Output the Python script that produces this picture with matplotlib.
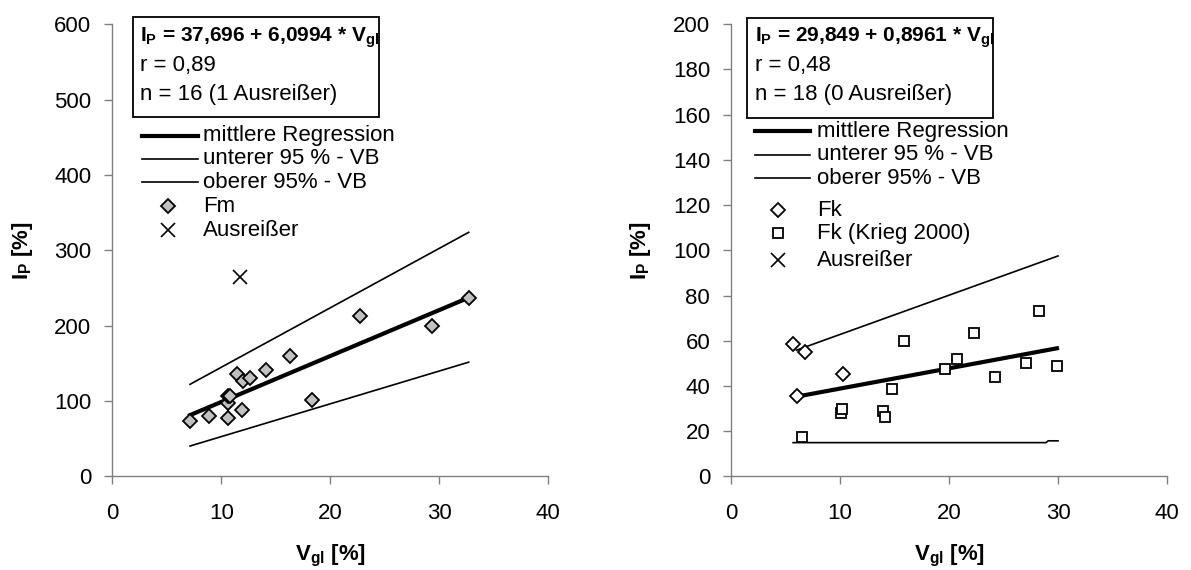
import matplotlib
matplotlib.use("Agg")
import matplotlib.pyplot as plt
from matplotlib.lines import Line2D
from matplotlib.patches import Rectangle
import numpy as np

plt.rcParams["font.family"] = ["Liberation Sans", "DejaVu Sans"]
plt.rcParams["mathtext.fontset"] = "custom"
plt.rcParams["mathtext.rm"] = "Liberation Sans"
plt.rcParams["mathtext.bf"] = "Liberation Sans:bold"
plt.rcParams["mathtext.it"] = "Liberation Sans:italic"

# ---- Fm (left panel) ----
fm_x = [7.13, 8.9, 10.59, 11.9, 10.59, 10.6, 10.8, 11.47, 12.0, 12.63,
        14.07, 16.3, 18.3, 22.7, 29.3, 32.7]
fm_y = [73.8, 80.0, 77.0, 87.6, 97.3, 106.6, 107.0, 135.8, 126.9, 130.0,
        141.1, 159.7, 100.9, 212.8, 199.1, 236.3]
fm_out_x = [11.72]
fm_out_y = [265.0]
fm_a, fm_b = 37.696, 6.0994
fm_line_x = [7.13, 32.7]
fm_upper_y = [122.1, 323.9]
fm_lower_y = [40.2, 151.5]

# ---- Fk (right panel) ----
fk_x = [5.65, 6.82, 10.29, 6.05]
fk_y = [58.5, 54.9, 45.1, 35.5]
kr_x = [6.5, 10.05, 10.2, 13.9, 14.1, 14.78, 15.9, 19.6, 20.7, 22.3,
        24.2, 27.1, 28.3, 29.9]
kr_y = [17.2, 28.1, 29.6, 28.9, 26.4, 38.6, 59.9, 47.3, 51.8, 63.3,
        43.8, 50.0, 73.0, 48.9]
fk_a, fk_b = 29.849, 0.8961
fk_line_x = [6.0, 29.9]
fk_upper_x = [6.0, 30.0]
fk_upper_y = [55.8, 97.5]
fk_lower_x = [5.7, 28.9, 29.1, 30.0]
fk_lower_y = [14.9, 14.9, 15.7, 15.7]

x_ticks = [0, 10, 20, 30, 40]
fm_yticks = [0, 100, 200, 300, 400, 500, 600]
fk_yticks = list(range(0, 201, 20))

W, H = 1191, 570
fig = plt.figure(figsize=(W / 100, H / 100), dpi=100)

SPINE = "#808080"
FS = 16


def make_axes(left_px, yticks, ymax):
    ax = fig.add_axes([left_px / W, (H - 476.3) / H, 436 / W, 452 / H])
    ax.set_xlim(0, 40)
    ax.set_ylim(0, ymax)
    ax.set_xticks(x_ticks)
    ax.set_yticks(yticks)
    for s in ("top", "right"):
        ax.spines[s].set_visible(False)
    for s in ("left", "bottom"):
        ax.spines[s].set_color(SPINE)
        ax.spines[s].set_linewidth(1.0)
    ax.tick_params(direction="out", length=5.5, width=1.0, color=SPINE,
                   labelsize=FS)
    ax.tick_params(axis="y", pad=9.5)
    ax.tick_params(axis="x", pad=14)
    ax.text(-0.207, 0.5, r"$\mathbf{I_P}$ [%]", transform=ax.transAxes,
            rotation=90, ha="center", va="center", fontsize=FS,
            fontweight="bold")
    ax.text(0.5, -0.176, r"$\mathbf{V_{gl}}$ [%]", transform=ax.transAxes,
            ha="center", va="center", fontsize=FS, fontweight="bold")
    return ax


# left panel
ax1 = make_axes(112.3, fm_yticks, 600)
xl = np.array(fm_line_x)
ax1.plot(xl, fm_a + fm_b * xl, color="black", lw=3.0, zorder=2)
ax1.plot(fm_line_x, fm_upper_y, color="black", lw=1.2, zorder=2)
ax1.plot(fm_line_x, fm_lower_y, color="black", lw=1.2, zorder=2)
ax1.plot(fm_x, fm_y, ls="none", marker="D", ms=6.8, mfc="#c0c0c0",
         mec="black", mew=1.3, zorder=3)
ax1.plot(fm_out_x, fm_out_y, ls="none", marker="x", ms=10, mec="black",
         mew=1.2, zorder=3)

# right panel
ax2 = make_axes(731, fk_yticks, 200)
xr = np.array(fk_line_x)
ax2.plot(xr, fk_a + fk_b * xr, color="black", lw=3.0, zorder=2)
ax2.plot(fk_upper_x, fk_upper_y, color="black", lw=1.2, zorder=2)
ax2.plot(fk_lower_x, fk_lower_y, color="black", lw=1.2, zorder=2)
ax2.plot(kr_x, kr_y, ls="none", marker="s", ms=7, mfc="white",
         mec="black", mew=1.3, zorder=3)
ax2.plot(fk_x, fk_y, ls="none", marker="D", ms=6.8, mfc="white",
         mec="black", mew=1.3, zorder=3)

# overlay in pixel coordinates for the equation boxes and legends
ov = fig.add_axes([0, 0, 1, 1], facecolor="none")
ov.set_xlim(0, W)
ov.set_ylim(H, 0)
ov.axis("off")


def eq_box(x0, x1, y0, y1, eq, r_txt, n_txt):
    ov.add_patch(Rectangle((x0, y0), x1 - x0, y1 - y0, fill=True,
                           facecolor="white", edgecolor="black", lw=1.3))
    tx = x0 + 7.5
    ov.text(tx, 41.7, eq, fontsize=15, fontweight="bold", va="baseline")
    ov.text(tx, 71, r_txt, fontsize=FS, va="baseline")
    ov.text(tx, 100, n_txt, fontsize=FS, va="baseline")


eq_box(132.7, 379, 17.3, 117.3,
       r"$\mathbf{I_P}$ = 37,696 + 6,0994 * $\mathbf{V_{gl}}$", "r = 0,89",
       "n = 16 (1 Ausreißer)")
eq_box(747.3, 993, 18.3, 118.3,
       r"$\mathbf{I_P}$ = 29,849 + 0,8961 * $\mathbf{V_{gl}}$", "r = 0,48",
       "n = 18 (0 Ausreißer)")


def legend(lx0, lx1, tx, mx, rows):
    for kind, y, label in rows:
        if kind == "thick":
            ov.add_line(Line2D([lx0, lx1], [y, y], color="black", lw=3.0))
        elif kind == "thin":
            ov.add_line(Line2D([lx0, lx1], [y, y], color="black", lw=1.2))
        elif kind == "Dg":
            ov.plot([mx], [y], marker="D", ms=6.8, mfc="#c0c0c0", mec="black",
                    mew=1.3)
        elif kind == "Dw":
            ov.plot([mx], [y], marker="D", ms=6.8, mfc="white", mec="black",
                    mew=1.3)
        elif kind == "s":
            ov.plot([mx], [y], marker="s", ms=7, mfc="white", mec="black",
                    mew=1.3)
        elif kind == "x":
            ov.plot([mx], [y], marker="x", ms=10, mec="black", mew=1.2)
        ov.text(tx, y, label, fontsize=FS, va="center", ha="left")


legend(141.7, 198.3, 202.7, 168.3, [
    ("thick", 136, "mittlere Regression"),
    ("thin", 159, "unterer 95 % - VB"),
    ("thin", 182.3, "oberer 95% - VB"),
    ("Dg", 206, "Fm"),
    ("x", 230, "Ausreißer"),
])
legend(755, 810, 817.3, 778, [
    ("thick", 131, "mittlere Regression"),
    ("thin", 154.5, "unterer 95 % - VB"),
    ("thin", 178, "oberer 95% - VB"),
    ("Dw", 210, "Fk"),
    ("s", 233, "Fk (Krieg 2000)"),
    ("x", 260, "Ausreißer"),
])

fig.savefig("out.png", dpi=100)
